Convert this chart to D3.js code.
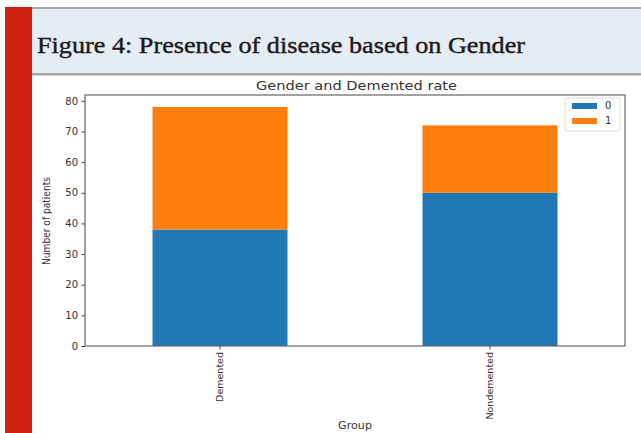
<!DOCTYPE html>
<html><head><meta charset="utf-8">
<script src="https://cdn.jsdelivr.net/npm/d3@7"></script>
<style>body{margin:0;background:#fff;}svg{display:block;}</style>
</head><body>
<svg id="c" width="641" height="433"></svg>
<script>
const categories = ["Demented", "Nondemented"];
const series0 = [38, 50];
const series1 = [40, 22];
const seriesNames = ["0", "1"];
const yTicks = [0, 10, 20, 30, 40, 50, 60, 70, 80];
const colors = ["#1f77b4", "#ff7f0e"];

const svg = d3.select("#c");
// page decoration
svg.append("rect").attr("x", 0).attr("y", 0).attr("width", 641).attr("height", 433).attr("fill", "#fff");
svg.append("rect").attr("x", 32).attr("y", 9).attr("width", 609).attr("height", 65).attr("fill", "#e5ecf3");
svg.append("rect").attr("x", 32).attr("y", 7).attr("width", 609).attr("height", 2).attr("fill", "#a8a8a8");
svg.append("rect").attr("x", 32).attr("y", 73).attr("width", 609).attr("height", 2.5).attr("fill", "#a8a8a8");
svg.append("rect").attr("x", 5).attr("y", 7).attr("width", 27).attr("height", 426).attr("fill", "#d12010");
svg.append("text").attr("x", 37).attr("y", 53).attr("font-family", "'Liberation Serif', serif")
  .attr("font-size", 23.5).attr("fill", "#1a1a1a").attr("stroke", "#1a1a1a").attr("stroke-width", 0.4)
  .attr("textLength", 488).attr("lengthAdjust", "spacingAndGlyphs")
  .text("Figure 4: Presence of disease based on Gender");

// chart
const m = {l: 85, r: 625, t: 95, b: 346};
const x = d3.scaleBand().domain(categories).range([m.l, m.r]).paddingInner(0.5).paddingOuter(0.25);
const ymax = d3.max(categories.map((c, i) => series0[i] + series1[i])) * 1.05;
const y = d3.scaleLinear().domain([0, ymax]).range([m.b, m.t]);

const stackData = categories.map((c, i) => ({cat: c, "0": series0[i], "1": series1[i]}));
const stacked = d3.stack().keys(seriesNames)(stackData);
const g = svg.append("g");
stacked.forEach((s, si) => {
  g.selectAll(null).data(s).enter().append("rect")
    .attr("x", d => x(d.data.cat)).attr("width", x.bandwidth())
    .attr("y", d => y(d[1])).attr("height", d => y(d[0]) - y(d[1]))
    .attr("fill", colors[si]);
});

const font = "'DejaVu Sans', sans-serif";
const yAxis = svg.append("g").attr("transform", `translate(${m.l},0)`)
  .call(d3.axisLeft(y).tickValues(yTicks).tickSize(3.5).tickPadding(3.5));
yAxis.select(".domain").remove();
yAxis.selectAll("text").attr("font-family", font).attr("font-size", 10).attr("fill", "#333");
yAxis.selectAll("line").attr("stroke", "#444");

const xAxis = svg.append("g").attr("transform", `translate(0,${m.b})`)
  .call(d3.axisBottom(x).tickSize(3.5).tickPadding(3));
xAxis.select(".domain").remove();
xAxis.selectAll("line").attr("stroke", "#444");
xAxis.selectAll("text").attr("font-family", font).attr("font-size", 9.5).attr("fill", "#333")
  .attr("transform", "rotate(-90)").attr("text-anchor", "end").attr("dy", "0.35em")
  .attr("x", -6).attr("y", 0);

// spines
svg.append("rect").attr("x", m.l).attr("y", m.t).attr("width", m.r - m.l).attr("height", m.b - m.t)
  .attr("fill", "none").attr("stroke", "#666").attr("stroke-width", 1.2);

svg.append("text").attr("x", 256).attr("y", 90)
  .attr("font-family", font).attr("font-size", 11.5).attr("fill", "#333")
  .attr("textLength", 201).attr("lengthAdjust", "spacingAndGlyphs").text("Gender and Demented rate");
svg.append("text").attr("x", 338).attr("y", 429)
  .attr("font-family", font).attr("font-size", 10).attr("fill", "#333")
  .attr("textLength", 34).attr("lengthAdjust", "spacingAndGlyphs").text("Group");
svg.append("text").attr("transform", `translate(50,265) rotate(-90)`)
  .attr("font-family", "'DejaVu Sans Condensed', 'DejaVu Sans', sans-serif").attr("font-size", 10.5)
  .attr("textLength", 88).attr("lengthAdjust", "spacingAndGlyphs")
  .attr("fill", "#333").text("Number of patients");

// legend
const lg = svg.append("g").attr("transform", "translate(565,98)");
lg.append("rect").attr("width", 55).attr("height", 33).attr("rx", 2).attr("fill", "#fff")
  .attr("stroke", "#ddd");
seriesNames.forEach((n, i) => {
  lg.append("rect").attr("x", 7).attr("y", 5 + i * 15).attr("width", 25).attr("height", 6).attr("fill", colors[i]);
  lg.append("text").attr("x", 40).attr("y", 11 + i * 15).attr("font-family", font).attr("font-size", 10)
    .attr("fill", "#333").text(n);
});
</script>
</body></html>
